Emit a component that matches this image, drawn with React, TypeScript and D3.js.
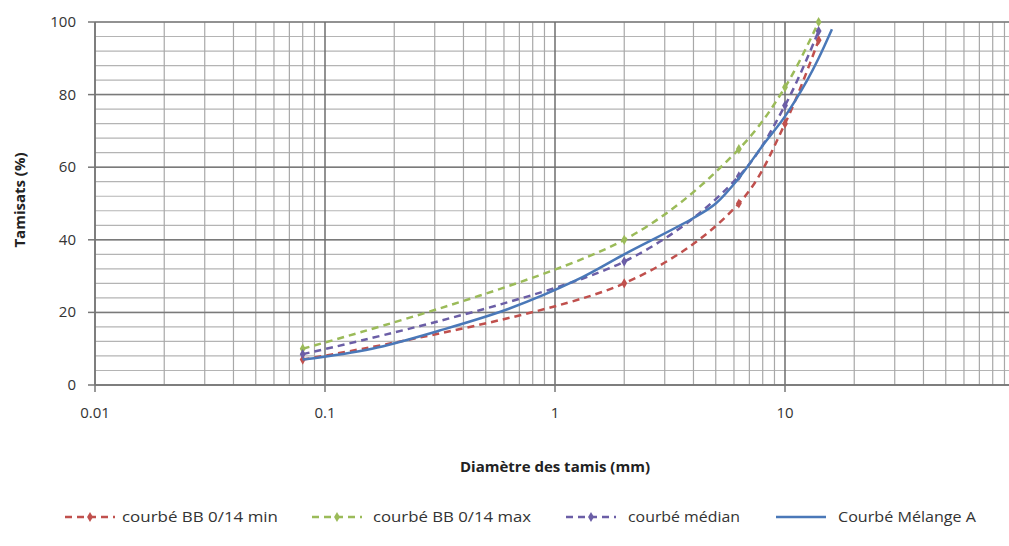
import React from "react";
import * as d3 from "d3";

const sievesSpec = [0.08, 2, 6.3, 10, 14];
const minValues = [7, 28, 50, 72, 95];
const maxValues = [10, 40, 65, 82, 100];
const medianValues = [8.5, 34, 57.5, 77, 97.5];
const mixSieves = [0.08, 0.16, 0.315, 0.63, 1.25, 2, 4, 5, 6.3, 8, 10, 12.5, 14, 16];
const mixValues = [7, 10, 15, 21, 29, 36, 46, 50, 57, 66, 74, 84, 90, 98];

const xTickValues = [0.01, 0.1, 1, 10];
const xTickLabels = ["0.01", "0.1", "1", "10"];
const yTickValues = [0, 20, 40, 60, 80, 100];

const seriesNames = ["courbé BB 0/14 min", "courbé BB 0/14 max", "courbé médian", "Courbé Mélange A"];
const seriesColors = ["#c0504d", "#9bbb59", "#6b5ea6", "#4a78b8"];

const W = 1009;
const H = 546;
const M = { left: 95, right: 1015, top: 22, bottom: 385 };
const FONT = "'Liberation Sans Narrow', 'Open Sans', 'Liberation Sans', sans-serif";

export default function App() {
  const x = d3.scaleLog().domain([0.01, 100]).range([M.left, M.right]);
  const y = d3.scaleLinear().domain([0, 100]).range([M.bottom, M.top]);

  const minorX: number[] = [];
  for (let e = -2; e < 2; e++) {
    for (let k = 2; k <= 9; k++) minorX.push(k * Math.pow(10, e));
  }
  const minorY = d3.range(0, 101, 4);
  const majorX = [0.01, 0.1, 1, 10, 100];

  const line = d3
    .line<[number, number]>()
    .x((d) => x(d[0]))
    .y((d) => y(d[1]))
    .curve(d3.curveCatmullRom.alpha(0.5));

  const specSeries = [minValues, maxValues, medianValues].map((vals) =>
    sievesSpec.map((s, i) => [s, vals[i]] as [number, number])
  );
  const mixSeries = mixSieves.map((s, i) => [s, mixValues[i]] as [number, number]);

  const diamond = d3.symbol().type(d3.symbolDiamond).size(30)() as string;

  const legendItems = [
    { sx: 65, tx: 122, tw: 156 },
    { sx: 312, tx: 373, tw: 158 },
    { sx: 566, tx: 628, tw: 112 },
    { sx: 776, tx: 838, tw: 138 },
  ];
  const legendY = 522;

  return (
    <svg width={W} height={H} style={{ position: "absolute", left: 0, top: 0, background: "#fff" }}>
      <defs>
        <clipPath id="plotClip">
          <rect x={M.left} y={M.top - 6} width={W - M.left} height={M.bottom - M.top + 6} />
        </clipPath>
      </defs>
      <rect x={0} y={0} width={W} height={H} fill="#fff" />
      {/* minor gridlines */}
      {minorY.map((v) => (
        <line key={"my" + v} x1={M.left} x2={W} y1={y(v)} y2={y(v)} stroke="#b4b4b4" strokeWidth={1.2} />
      ))}
      {minorX.map((v) => (
        <line key={"mx" + v} x1={x(v)} x2={x(v)} y1={M.top} y2={M.bottom} stroke="#a8a8a8" strokeWidth={1.2} />
      ))}
      {/* major gridlines */}
      {yTickValues.map((v) => (
        <line key={"Y" + v} x1={M.left} x2={W} y1={y(v)} y2={y(v)} stroke="#7a7a7a" strokeWidth={1.5} />
      ))}
      {majorX.map((v) => (
        <line key={"X" + v} x1={x(v)} x2={x(v)} y1={M.top} y2={M.bottom} stroke="#6e6e6e" strokeWidth={1.5} />
      ))}
      {/* axes */}
      <line x1={M.left} x2={M.left} y1={M.top} y2={M.bottom} stroke="#777" strokeWidth={1.5} />
      <line x1={M.left} x2={W} y1={M.bottom} y2={M.bottom} stroke="#777" strokeWidth={1.5} />
      {yTickValues.map((v) => (
        <line key={"yt" + v} x1={M.left - 7} x2={M.left} y1={y(v)} y2={y(v)} stroke="#777" strokeWidth={1.5} />
      ))}
      {xTickValues.map((v) => (
        <line key={"xt" + v} x1={x(v)} x2={x(v)} y1={M.bottom} y2={M.bottom + 7} stroke="#777" strokeWidth={1.5} />
      ))}
      {/* tick labels */}
      {yTickValues.map((v) => (
        <text key={"yl" + v} x={76} y={y(v) + 5} textAnchor="end" fontFamily={FONT} fontSize={15} fill="#333">
          {v}
        </text>
      ))}
      {xTickValues.map((v, i) => (
        <text key={"xl" + v} x={x(v)} y={418} textAnchor="middle" fontFamily={FONT} fontSize={15} fill="#333">
          {xTickLabels[i]}
        </text>
      ))}
      {/* axis titles */}
      <text x={555} y={472} textAnchor="middle" fontFamily={FONT} fontSize={15} fontWeight="bold" fill="#222">
        Diamètre des tamis (mm)
      </text>
      <text
        transform={`translate(25, ${200}) rotate(-90)`}
        textAnchor="middle"
        fontFamily={FONT}
        fontSize={15}
        fontWeight="bold"
        fill="#222"
      >
        Tamisats (%)
      </text>
      {/* series */}
      <g clipPath="url(#plotClip)">
        {specSeries.map((pts, i) => (
          <g key={"s" + i}>
            <path d={line(pts) as string} fill="none" stroke={seriesColors[i]} strokeWidth={2.5} strokeDasharray="7 5" />
            {pts.map((p, j) => (
              <path key={j} d={diamond} transform={`translate(${x(p[0])},${y(p[1])})`} fill={seriesColors[i]} />
            ))}
          </g>
        ))}
        <path d={line(mixSeries) as string} fill="none" stroke={seriesColors[3]} strokeWidth={2.5} />
      </g>
      {/* legend */}
      {legendItems.map((it, i) => (
        <g key={"lg" + i}>
          <line
            x1={it.sx}
            x2={it.sx + 50}
            y1={legendY - 5}
            y2={legendY - 5}
            stroke={seriesColors[i]}
            strokeWidth={2.5}
            strokeDasharray={i < 3 ? "7 5" : undefined}
          />
          {i < 3 && <path d={diamond} transform={`translate(${it.sx + 25},${legendY - 5})`} fill={seriesColors[i]} />}
          <text
            x={it.tx}
            y={legendY}
            fontFamily={FONT}
            fontSize={15}
            fill="#333"
            textLength={it.tw}
            lengthAdjust="spacingAndGlyphs"
          >
            {seriesNames[i]}
          </text>
        </g>
      ))}
    </svg>
  );
}
